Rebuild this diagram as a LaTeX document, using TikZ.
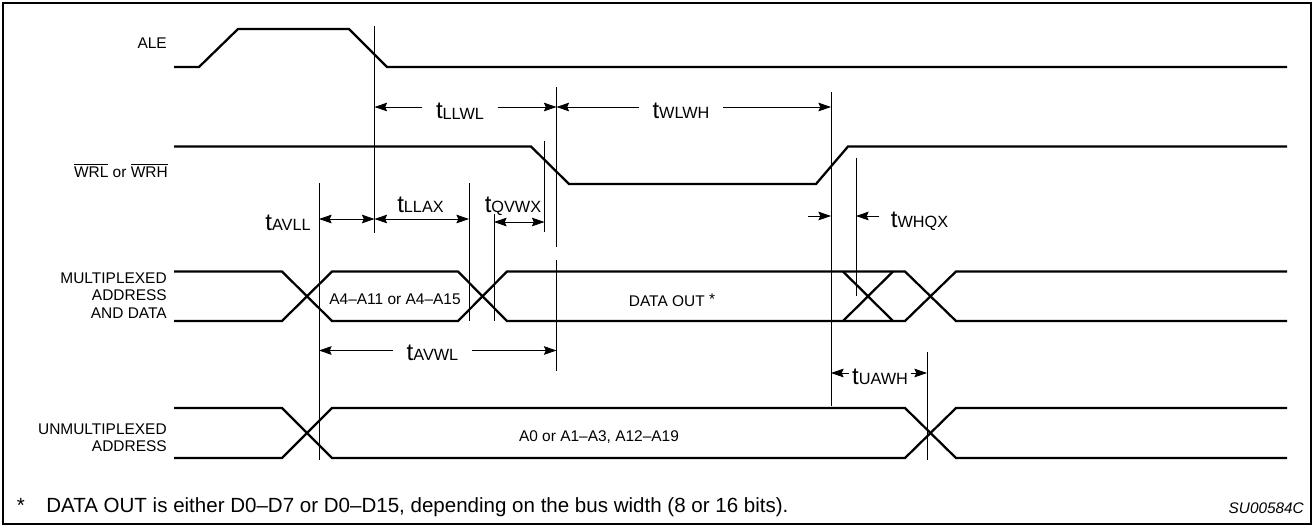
\documentclass[tikz,border=0pt]{standalone}
\usepackage{fontspec}
\setmainfont{Liberation Sans}
\usetikzlibrary{arrows.meta,calc}
\newcommand{\tsig}[1]{{\fontsize{18}{20}\selectfont t}\raisebox{-0.5pt}{\fontsize{12.2}{14}\selectfont #1}}
\tikzset{
  frame/.style={line width=1.6pt},
  sig/.style={line width=1.7pt, line join=miter},
  vl/.style={line width=0.6pt},
  tip/.tip={Stealth[length=9.5pt,width=6.5pt,inset=1.5pt]},
  dim/.style={line width=0.6pt, -tip},
  dimb/.style={line width=0.6pt, tip-tip},
  lbl/.style={inner sep=0pt, font=\fontsize{11.6}{13}\selectfont},
  tlab/.style={inner ysep=0pt, inner xsep=10pt, anchor=base},
  fn/.style={inner sep=0pt, font=\fontsize{15.4}{18}\selectfont},
}
\begin{document}
\begin{tikzpicture}[x=0.75pt,y=-0.75pt]
\useasboundingbox (0,0) rectangle (1314,526);
\draw[frame] (3,3) rectangle (1311,524);

% signal labels
\node[lbl, anchor=base east] (nALE) at (167,48.5) {ALE};
\node[lbl, anchor=base east] (nWR) at (168,177) {$\overline{\mbox{WRL}}$ or $\overline{\mbox{WRH}}$};
\node[lbl, anchor=base east] (nMUXa) at (167,283) {MULTIPLEXED};
\node[lbl, anchor=base east] (nMUXb) at (167,300.5) {ADDRESS};
\node[lbl, anchor=base east] (nMUXc) at (167,318) {AND DATA};
\node[lbl, anchor=base east] (nUNa) at (167,434) {UNMULTIPLEXED};
\node[lbl, anchor=base east] (nUNb) at (167,451) {ADDRESS};

% waveforms
\draw[sig] (174,67) -- (199,67) -- (238,29) -- (349,29) -- (387,67) -- (1287,67);
\draw[sig] (174,146.5) -- (531,146.5) -- (569,184) -- (816,184) -- (848,146.5) -- (1287,146.5);
\draw[sig] (174,271.5) -- (282,271.5) -- (332,321) -- (458,321) -- (507,271.5) -- (905,271.5) -- (956,321) -- (1287,321);
\draw[sig] (174,321) -- (282,321) -- (332,271.5) -- (458,271.5) -- (507,321) -- (905,321) -- (956,271.5) -- (1287,271.5);
\draw[sig] (843,271.5) -- (893,321) (843,321) -- (893,271.5);
\draw[sig] (174,408) -- (282,408) -- (332,458) -- (905,458) -- (956,408) -- (1287,408);
\draw[sig] (174,458) -- (282,458) -- (332,408) -- (905,408) -- (956,458) -- (1287,458);

% bus contents
\node[lbl, anchor=base] (nA4) at (395,304) {A4–A11 or A4–A15};
\node[lbl, anchor=base] (nDO) at (672,306) {DATA OUT \raisebox{1.5pt}{*}};
\node[lbl, anchor=base] (nA0) at (599,441) {A0 or A1–A3, A12–A19};

% reference lines
\coordinate (L1) at (319,183);   \coordinate (L1e) at (319,460);
\coordinate (L2) at (374.5,26);  \coordinate (L2e) at (374.5,233);
\coordinate (L3) at (469,183);   \coordinate (L3e) at (469,321);
\coordinate (L4) at (494,214);   \coordinate (L4e) at (494,321);
\coordinate (L5) at (544.5,141); \coordinate (L5e) at (544.5,232);
\coordinate (L6) at (556.5,87);  \coordinate (L6e) at (556.5,247);
\coordinate (L6b) at (556.5,260); \coordinate (L6be) at (556.5,371);
\coordinate (L7) at (831,92);    \coordinate (L7e) at (831,406);
\coordinate (L8) at (856,158);   \coordinate (L8e) at (856,296);
\coordinate (L9) at (927,352);   \coordinate (L9e) at (927,460);
\foreach \a/\b in {L1/L1e,L2/L2e,L3/L3e,L4/L4e,L5/L5e,L6/L6e,L6b/L6be,L7/L7e,L8/L8e,L9/L9e}
  \draw[vl] (\a) -- (\b);

% arrow levels
\coordinate (yTop) at (0,107);
\coordinate (yMid) at (0,219);
\coordinate (yQV) at (0,222);
\coordinate (yWH) at (0,216);
\coordinate (yAVWL) at (0,350.5);
\coordinate (yUA) at (0,373);
\coordinate (wA) at (808,216);

% timing labels
\node[tlab] (lLLWL) at (460,118.5) {\tsig{LLWL}};
\node[tlab] (lWLWH) at (681,118) {\tsig{WLWH}};
\node[tlab] (lAVLL) at (288,230) {\tsig{AVLL}};
\node[tlab] (lLLAX) at (420.5,212) {\tsig{LLAX}};
\node[tlab] (lQVWX) at (513,212) {\tsig{QVWX}};
\node[tlab, inner xsep=9pt] (lWHQX) at (919.5,227) {\tsig{WHQX}};
\node[tlab] (lAVWL) at (432.5,360) {\tsig{AVWL}};
\node[tlab, inner xsep=2.5pt] (lUAWH) at (880,384) {\tsig{UAWH}};

% timing arrows
\draw[dim] (lLLWL.west |- yTop) -- (L2 |- yTop);
\draw[dim] (lLLWL.east |- yTop) -- (L6 |- yTop);
\draw[dim] (lWLWH.west |- yTop) -- (L6 |- yTop);
\draw[dim] (lWLWH.east |- yTop) -- (L7 |- yTop);
\draw[dimb] (L1 |- yMid) -- (L2 |- yMid);
\draw[dimb] (L2 |- yMid) -- (L3 |- yMid);
\draw[dimb] (L4 |- yQV) -- (L5 |- yQV);
\draw[dim] (wA) -- (L7 |- yWH);
\draw[dim] (lWHQX.west |- yWH) -- (L8 |- yWH);
\draw[dim] (lAVWL.west |- yAVWL) -- (L1 |- yAVWL);
\draw[dim] (lAVWL.east |- yAVWL) -- (L6b |- yAVWL);
\draw[dim] (lUAWH.west |- yUA) -- (L7 |- yUA);
\draw[dim] (lUAWH.east |- yUA) -- (L9 |- yUA);

% footnote
\node[fn, anchor=base west] (fnS) at (16.5,512) {*};
\node[fn, anchor=base west] (fnT) at (46,512) {DATA OUT is either D0–D7 or D0–D15, depending on the bus width (8 or 16 bits).};
\node[inner sep=0pt, anchor=base east, font=\fontsize{11.5}{13}\selectfont\itshape] (code) at (1304,513) {SU00584C};
\end{tikzpicture}
\end{document}
